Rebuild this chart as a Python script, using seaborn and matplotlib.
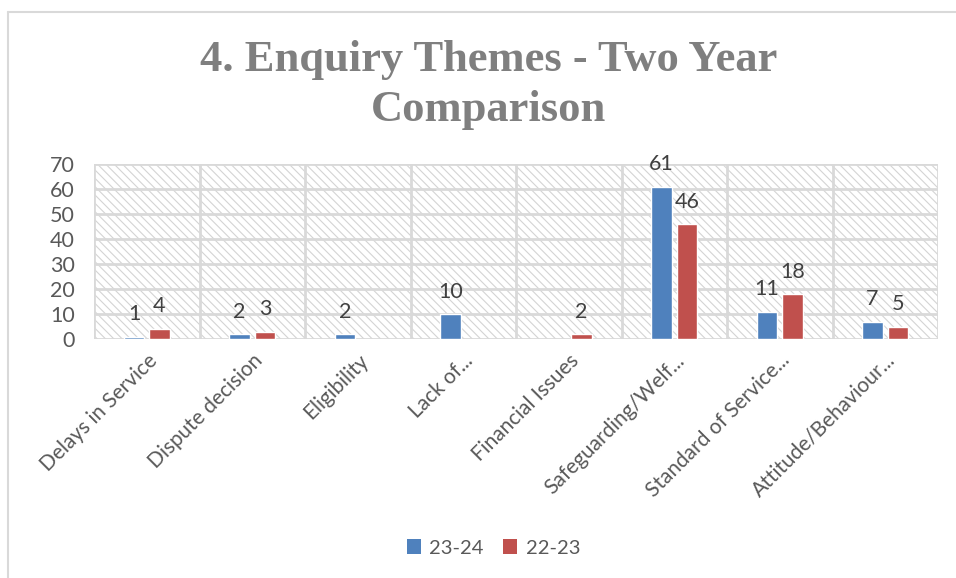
import numpy as np
import pandas as pd
import seaborn as sns
import matplotlib
matplotlib.use("Agg")
import matplotlib.pyplot as plt
from matplotlib.patches import Rectangle, Patch
from matplotlib.lines import Line2D

categories = ["Delays in Service", "Dispute decision", "Eligibility", "Lack of...",
              "Financial Issues", "Safeguarding/Welf...", "Standard of Service...",
              "Attitude/Behaviour..."]
series_names = ["23-24", "22-23"]
values_2324 = [1, 2, 2, 10, np.nan, 61, 11, 7]
values_2223 = [4, 3, np.nan, np.nan, 2, 46, 18, 5]
colors = ["#4f81bd", "#c0504d"]
yticks = [0, 10, 20, 30, 40, 50, 60, 70]
title = "4. Enquiry Themes - Two Year\nComparison"

df = pd.DataFrame({
    "Category": categories * 2,
    "Series": [series_names[0]] * len(categories) + [series_names[1]] * len(categories),
    "Value": values_2324 + values_2223,
})

sns.set_theme(style="white")
plt.rcParams["font.family"] = ["Lato", "DejaVu Sans"]
plt.rcParams["hatch.linewidth"] = 0.8

fig = plt.figure(figsize=(9.56, 5.78), dpi=100)
ax = fig.add_axes([94 / 956, 1 - 339 / 578, (938 - 94) / 956, (339 - 164) / 578])

sns.barplot(data=df, x="Category", y="Value", hue="Series", order=categories,
            hue_order=series_names, palette=colors, width=0.48, gap=0.2,
            saturation=1, ax=ax, legend=False, zorder=3)

# hatched background
bg = Rectangle((0, 0), 1, 1, transform=ax.transAxes, facecolor="white",
               edgecolor="#d4d4d4", hatch="\\\\\\\\", linewidth=0, zorder=0)
ax.add_patch(bg)

ax.set_xlim(-0.5, len(categories) - 0.5)
ax.set_ylim(0, 70)
ax.set_yticks(yticks)
ax.set_yticklabels([str(t) for t in yticks], fontsize=15.5, color="#595959")
ax.set_xticks(range(len(categories)))
ax.set_xticklabels(categories, rotation=45, ha="right", rotation_mode="anchor",
                   fontsize=15, color="#595959")
ax.tick_params(axis="both", length=0)
ax.tick_params(axis="x", pad=8)
ax.tick_params(axis="y", pad=14)
ax.set_xticks(np.arange(-0.5, len(categories), 1.0), minor=True)
ax.grid(True, axis="y", color="#d9d9d9", linewidth=2, zorder=1)
ax.grid(True, axis="x", which="minor", color="#d9d9d9", linewidth=2, zorder=1)
ax.grid(False, axis="x", which="major")
ax.set_axisbelow(True)
for s in ax.spines.values():
    s.set_visible(False)
ax.set_xlabel("")
ax.set_ylabel("")

for cont in ax.containers:
    labels = ["" if np.isnan(v) else f"{int(v)}" for v in cont.datavalues]
    ax.bar_label(cont, labels=labels, padding=9, fontsize=15.5, color="#404040")

fig.text(0.511, 0.853, title, ha="center", va="center", fontsize=32,
         fontweight="bold", color="#7f7f7f", family=["Liberation Serif", "DejaVu Serif"],
         linespacing=1.3)

handles = [Patch(facecolor=c, edgecolor="none") for c in colors]
fig.legend(handles, series_names, loc="center", bbox_to_anchor=(0.516, 1 - 548 / 578),
           ncol=2, frameon=False, fontsize=14.5, handlelength=0.7, handleheight=0.7,
           columnspacing=1.0, handletextpad=0.4, labelcolor="#595959")

fig.add_artist(Line2D([8 / 956, 8 / 956], [0, 1 - 12 / 578], transform=fig.transFigure,
                      color="#d9d9d9", linewidth=1.5))
fig.add_artist(Line2D([8 / 956, 1], [1 - 12 / 578, 1 - 12 / 578], transform=fig.transFigure,
                      color="#d9d9d9", linewidth=1.5))

fig.savefig("out.png", dpi=100)
